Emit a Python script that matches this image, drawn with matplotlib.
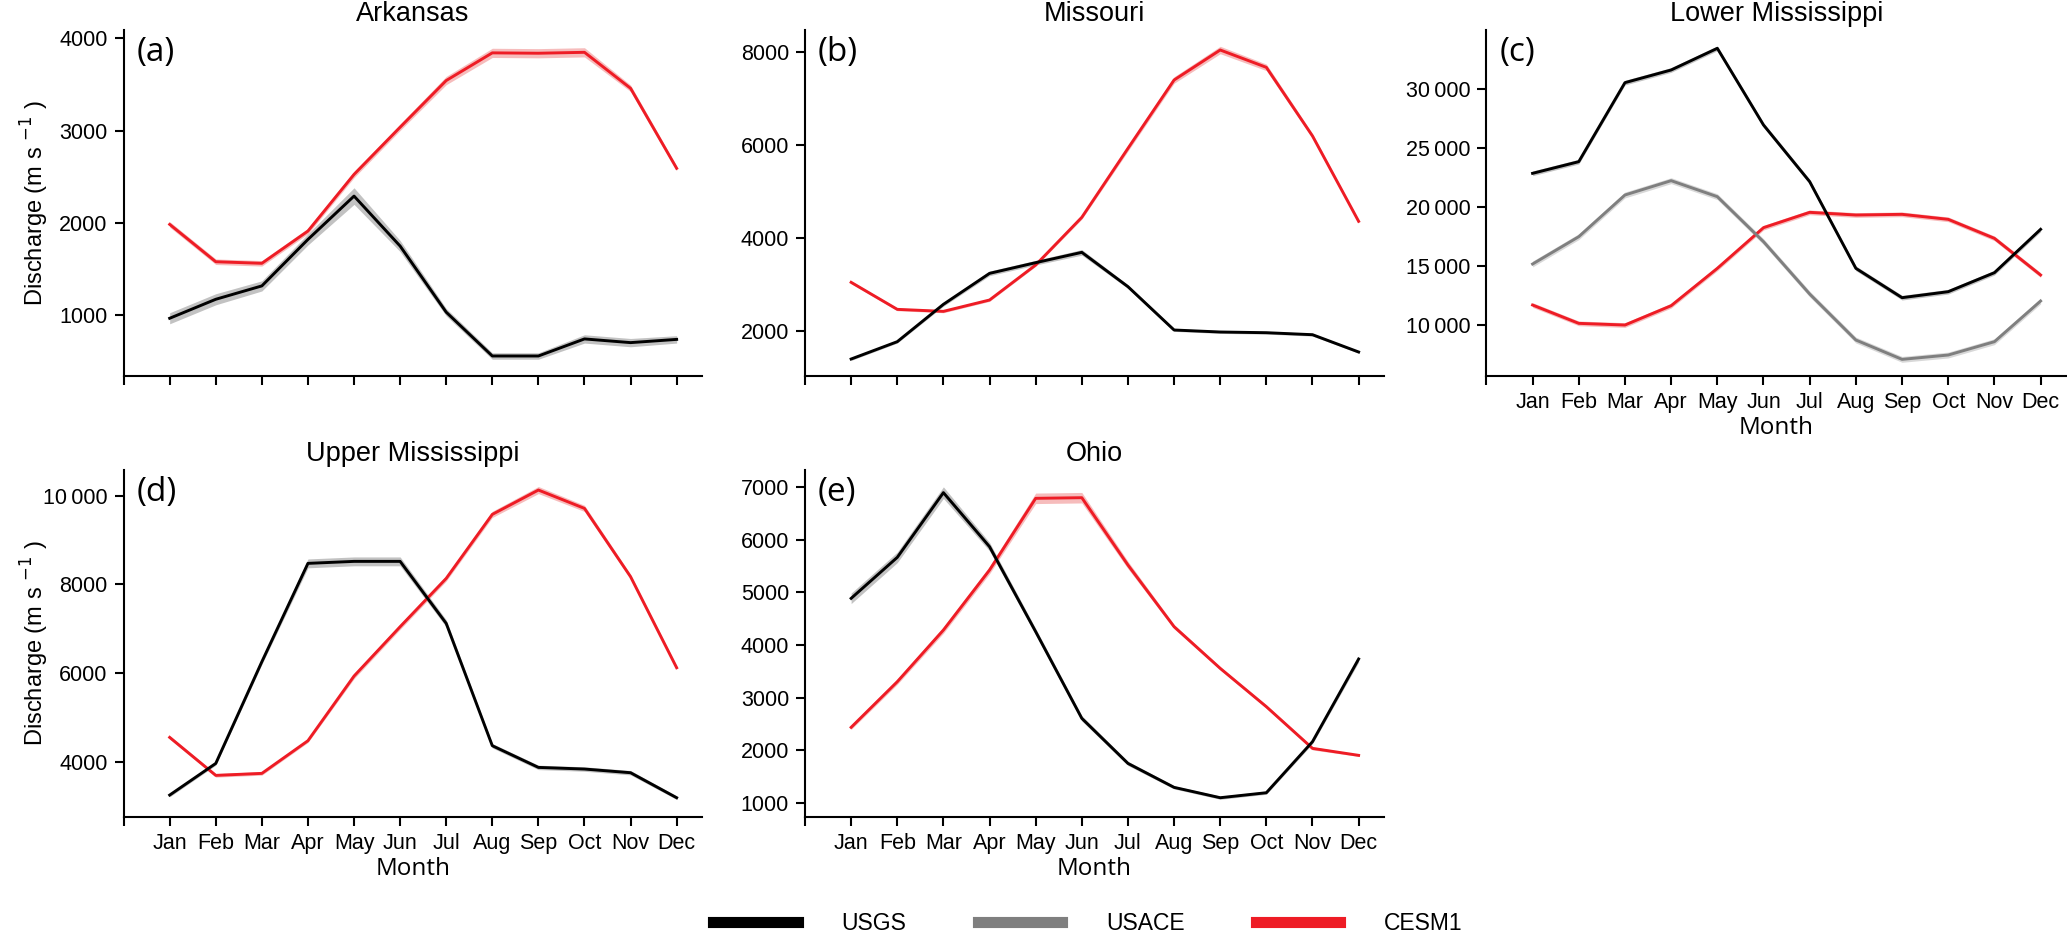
import matplotlib
matplotlib.use('Agg')
import matplotlib.pyplot as plt
from matplotlib.lines import Line2D
import numpy as np

plt.rcParams.update({
    'font.family': ['Liberation Sans', 'DejaVu Sans'],
    'font.size': 15.5,
    'axes.linewidth': 1.5,
    'xtick.major.size': 6.5, 'ytick.major.size': 6.5,
    'xtick.major.width': 1.5, 'ytick.major.width': 1.5,
    'xtick.major.pad': 5, 'ytick.major.pad': 5,
    'xtick.labelsize': 15.5, 'ytick.labelsize': 15.5,
})

months = ['Jan', 'Feb', 'Mar', 'Apr', 'May', 'Jun', 'Jul', 'Aug', 'Sep', 'Oct', 'Nov', 'Dec']

# monthly mean discharge
ark_usgs = [964, 1170, 1315, 1819, 2289, 1747, 1030, 555, 555, 740, 700, 735]
ark_usgs_sd = [60, 60, 55, 60, 90, 60, 40, 35, 35, 45, 45, 40]
ark_cesm = [1982, 1577, 1560, 1910, 2524, 3036, 3542, 3842, 3838, 3848, 3458, 2590]
ark_cesm_sd = [30, 30, 30, 30, 35, 35, 45, 50, 50, 50, 35, 25]

mo_usgs = [1405, 1778, 2581, 3247, 3477, 3699, 2961, 2029, 1986, 1971, 1928, 1556]
mo_usgs_sd = [30, 30, 40, 50, 50, 60, 40, 30, 30, 30, 30, 25]
mo_cesm = [3054, 2473, 2430, 2674, 3427, 4452, 5935, 7405, 8050, 7677, 6201, 4366]
mo_cesm_sd = [30, 30, 30, 30, 30, 40, 60, 70, 80, 70, 50, 30]

lmr_usgs = [22861, 23853, 30567, 31643, 33484, 26969, 22153, 14788, 12295, 12805, 14419, 18102]
lmr_usgs_sd = [200] * 12
lmr_usace = [15156, 17479, 21020, 22238, 20878, 17054, 12606, 8697, 7054, 7422, 8555, 12011]
lmr_usace_sd = [250] * 12
lmr_cesm = [11671, 10113, 9972, 11615, 14788, 18244, 19547, 19320, 19377, 18952, 17337, 14221]
lmr_cesm_sd = [200] * 12

umr_usgs = [3248, 3962, 6256, 8474, 8519, 8519, 7120, 4361, 3872, 3835, 3752, 3188]
umr_usgs_sd = [40, 40, 60, 100, 100, 100, 80, 50, 50, 50, 50, 40]
umr_cesm = [4549, 3692, 3737, 4474, 5932, 7045, 8135, 9579, 10128, 9714, 8173, 6120]
umr_cesm_sd = [40, 40, 40, 40, 60, 60, 60, 70, 80, 70, 50, 40]

ohio_usgs = [4888, 5668, 6899, 5871, 4254, 2605, 1748, 1292, 1095, 1190, 2161, 3734]
ohio_usgs_sd = [100, 100, 110, 80, 60, 50, 40, 30, 30, 30, 40, 60]
ohio_cesm = [2434, 3302, 4285, 5427, 6791, 6803, 5522, 4349, 3556, 2827, 2034, 1901]
ohio_cesm_sd = [40, 50, 60, 70, 100, 100, 70, 40, 30, 30, 30, 20]

BLACK, GRAY, RED = '#000000', '#7f7f7f', '#ee1c25'
BAND = {BLACK: '#a8a8a8', GRAY: '#c8c8c8', RED: '#f3a0a0'}

W, H = 2067, 936
fig = plt.figure(figsize=(W / 100, H / 100), dpi=100)


def px_axes(x0, x1, ytop, ybot):
    return fig.add_axes([x0 / W, 1 - ybot / H, (x1 - x0) / W, (ybot - ytop) / H])


panels = [
    dict(title='Arkansas', tag='(a)', box=(123.6, 702, 30, 376), ylim=(338, 4090),
         yticks=[1000, 2000, 3000, 4000], xlab=False, ylab=True,
         series=[(ark_cesm, ark_cesm_sd, RED), (ark_usgs, ark_usgs_sd, BLACK)]),
    dict(title='Missouri', tag='(b)', box=(805, 1384, 30, 376), ylim=(1040, 8480),
         yticks=[2000, 4000, 6000, 8000], xlab=False, ylab=False,
         series=[(mo_cesm, mo_cesm_sd, RED), (mo_usgs, mo_usgs_sd, BLACK)]),
    dict(title='Lower Mississippi', tag='(c)', box=(1486.4, 2066, 30, 376), ylim=(5640, 35040),
         yticks=[10000, 15000, 20000, 25000, 30000], xlab=True, ylab=False,
         series=[(lmr_cesm, lmr_cesm_sd, RED), (lmr_usace, lmr_usace_sd, GRAY),
                 (lmr_usgs, lmr_usgs_sd, BLACK)]),
    dict(title='Upper Mississippi', tag='(d)', box=(123.6, 702, 470, 816.7), ylim=(2760, 10580),
         yticks=[4000, 6000, 8000, 10000], xlab=True, ylab=True,
         series=[(umr_cesm, umr_cesm_sd, RED), (umr_usgs, umr_usgs_sd, BLACK)]),
    dict(title='Ohio', tag='(e)', box=(805, 1384, 470, 816.7), ylim=(734, 7330),
         yticks=[1000, 2000, 3000, 4000, 5000, 6000, 7000], xlab=True, ylab=False,
         series=[(ohio_cesm, ohio_cesm_sd, RED), (ohio_usgs, ohio_usgs_sd, BLACK)]),
]

x = np.arange(1, 13)


def fmt(v):
    s = f'{v:d}'
    return s[:-3] + '\u2009' + s[-3:] if v >= 10000 else s


for p in panels:
    x0, x1, yt, yb = p['box']
    ax = px_axes(x0, x1, yt, yb)
    for vals, sd, col in p['series']:
        v = np.array(vals, float)
        s = np.array(sd, float)
        ax.fill_between(x, v - s, v + s, color=BAND[col], alpha=0.7, lw=0, zorder=1)
    for vals, sd, col in p['series']:
        ax.plot(x, vals, color=col, lw=2.1, zorder=3)
    ax.set_xlim(0, 12.55)
    ax.set_ylim(*p['ylim'])
    ax.set_xticks(range(0, 13))
    if p['xlab']:
        ax.set_xticklabels([''] + months)
        ax.set_xlabel('Month', fontsize=17.5, family=['Open Sans', 'DejaVu Sans'], labelpad=2.5)
    else:
        ax.set_xticklabels([''] * 13)
    ax.set_yticks(p['yticks'])
    ax.set_yticklabels([fmt(t) for t in p['yticks']])
    ax.spines['top'].set_visible(False)
    ax.spines['right'].set_visible(False)
    ax.set_title(p['title'], fontsize=19.5, pad=6.5)
    ax.text(0.022, 0.935, p['tag'], transform=ax.transAxes, fontsize=24,
            family=['Open Sans', 'DejaVu Sans'], va='center', ha='left')
    if p['ylab']:
        fig.text(35 / W, 1 - (yt + yb) / 2 / H, 'Discharge (m s $^{-1}$ )', rotation=90,
                 ha='center', va='center', fontsize=17)

handles = [Line2D([], [], color=BLACK, lw=8),
           Line2D([], [], color=GRAY, lw=8),
           Line2D([], [], color=RED, lw=8)]
fig.legend(handles, ['USGS', 'USACE', 'CESM1'], loc='center', ncol=3,
           bbox_to_anchor=(1088 / W, 1 - 924 / H), frameon=False, fontsize=16.5,
           handlelength=3.7, handletextpad=1.9, columnspacing=3.1)

fig.savefig('out.png', dpi=100)
